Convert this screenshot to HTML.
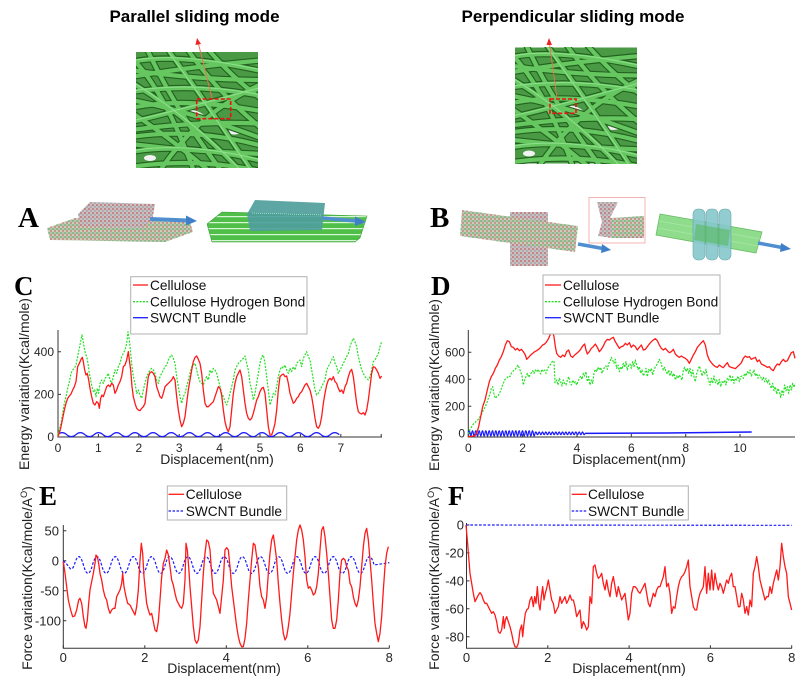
<!DOCTYPE html>
<html><head><meta charset="utf-8"><style>
html,body{margin:0;padding:0;background:#fff;}
svg{display:block;}
text{font-family:"Liberation Sans",Arial,sans-serif;fill:#262626;}
.t{font-size:12px;}
.t2{font-size:13px;}
.lg{font-size:13.7px;fill:#111;}
.al{font-size:14px;fill:#222;}
.pl{font-family:"Liberation Serif","Times New Roman",serif;font-weight:bold;fill:#000;}
.ttl{font-size:17px;font-weight:bold;fill:#000;}
.ax{stroke:#333;stroke-width:1;fill:none;}
</style></head><body>
<svg width="800" height="679" viewBox="0 0 800 679" xmlns="http://www.w3.org/2000/svg">
<defs>
<symbol id="fib" viewBox="0 0 122 116">
<rect width="122" height="116" fill="#4a9a45"/>
<ellipse cx="60" cy="62" rx="9" ry="3" fill="#f2f2f2" transform="rotate(20 60 62)"/>
<ellipse cx="45" cy="95" rx="8" ry="3" fill="#f2f2f2" transform="rotate(30 45 95)"/>
<ellipse cx="98" cy="80" rx="7" ry="2.5" fill="#f2f2f2"/>
<ellipse cx="14" cy="106" rx="6" ry="3" fill="#f2f2f2"/>
<g fill="none" stroke="#23621f" stroke-width="6.5">
<path d="M-5,10 Q40,0 130,20"/><path d="M-5,25 Q50,15 130,8"/><path d="M-5,40 Q60,30 130,45"/>
<path d="M0,55 Q50,45 130,60"/><path d="M-5,70 Q40,60 130,35"/><path d="M-5,85 Q60,75 130,95"/>
<path d="M-5,100 Q50,90 130,110"/><path d="M-5,115 Q60,105 130,120"/><path d="M10,-5 Q40,60 90,125"/>
<path d="M30,-5 Q70,50 120,125"/><path d="M-5,60 Q40,90 80,125"/><path d="M50,-5 Q80,40 130,80"/>
<path d="M-5,30 Q60,70 110,125"/><path d="M70,-5 Q100,30 130,50"/><path d="M-5,5 Q30,40 60,125"/>
<path d="M20,125 Q60,60 130,30"/><path d="M-5,78 Q70,68 130,72"/><path d="M-5,18 Q60,28 130,28"/>
<path d="M-5,48 Q50,58 130,88"/><path d="M-5,92 Q60,100 130,102"/>
</g>
<g fill="none" stroke="#66c761" stroke-width="4.2">
<path d="M-5,10 Q40,0 130,20"/><path d="M-5,25 Q50,15 130,8"/><path d="M-5,40 Q60,30 130,45"/>
<path d="M0,55 Q50,45 130,60"/><path d="M-5,70 Q40,60 130,35"/><path d="M-5,85 Q60,75 130,95"/>
<path d="M-5,100 Q50,90 130,110"/><path d="M-5,115 Q60,105 130,120"/><path d="M10,-5 Q40,60 90,125"/>
<path d="M30,-5 Q70,50 120,125"/><path d="M-5,60 Q40,90 80,125"/><path d="M50,-5 Q80,40 130,80"/>
<path d="M-5,30 Q60,70 110,125"/><path d="M70,-5 Q100,30 130,50"/><path d="M-5,5 Q30,40 60,125"/>
<path d="M20,125 Q60,60 130,30"/><path d="M-5,78 Q70,68 130,72"/><path d="M-5,18 Q60,28 130,28"/>
<path d="M-5,48 Q50,58 130,88"/><path d="M-5,92 Q60,100 130,102"/>
</g>
<g fill="none" stroke="#90e08c" stroke-width="1">
<path d="M-5,9 Q40,-1 130,19"/><path d="M-5,39 Q60,29 130,44"/><path d="M-5,69 Q40,59 130,34"/>
<path d="M-5,99 Q50,89 130,109"/><path d="M29,-5 Q69,50 119,125"/><path d="M-5,29 Q60,69 110,124"/>
</g>
</symbol>
<pattern id="mol" width="4" height="4" patternUnits="userSpaceOnUse">
<rect width="4" height="4" fill="#d4cfcc"/><circle cx="1" cy="1" r="0.8" fill="#c0392b"/><circle cx="3" cy="3" r="0.8" fill="#3c9a3c"/><circle cx="3" cy="1" r="0.6" fill="#8a8a8a"/>
</pattern>
<pattern id="mol2" width="4" height="4" patternUnits="userSpaceOnUse">
<rect width="4" height="4" fill="#c9c0c4"/><circle cx="1" cy="1" r="0.8" fill="#b84040"/><circle cx="3" cy="3" r="0.7" fill="#888"/>
</pattern>
<pattern id="mol3" width="4" height="4" patternUnits="userSpaceOnUse">
<rect width="4" height="4" fill="#c8d0bc"/><circle cx="1" cy="1" r="0.8" fill="#3ca03c"/><circle cx="3" cy="3" r="0.7" fill="#c04040"/><circle cx="3" cy="1" r="0.6" fill="#999"/>
</pattern>
<pattern id="tube" width="5" height="6" patternUnits="userSpaceOnUse">
<rect width="5" height="6" fill="#4fbf4a"/><rect y="0" width="5" height="1.2" fill="#d8f5d6"/>
</pattern>
</defs>

<!-- Titles -->
<text class="ttl" x="194.5" y="22" text-anchor="middle">Parallel sliding mode</text>
<text class="ttl" x="573" y="22" text-anchor="middle">Perpendicular sliding mode</text>

<!-- Fiber images -->
<use href="#fib" x="136" y="52" width="122" height="116"/>
<use href="#fib" x="515" y="47" width="122" height="117"/>
<rect x="196.7" y="99" width="34" height="19.7" fill="none" stroke="#ee1111" stroke-width="1.6" stroke-dasharray="4 2"/>
<line x1="212" y1="98" x2="198.5" y2="44" stroke="#f07050" stroke-width="0.9"/>
<polygon points="197,38 195.5,45 201,44" fill="#ee2222"/>
<rect x="550" y="99" width="26" height="14.3" fill="none" stroke="#ee1111" stroke-width="1.6" stroke-dasharray="4 2"/>
<line x1="557" y1="98" x2="549.5" y2="44" stroke="#f07050" stroke-width="0.9"/>
<polygon points="549,38 546.5,45 552,45" fill="#ee2222"/>

<!-- A molecular pictures -->
<text class="pl" x="18" y="227" font-size="29">A</text>
<polygon points="47,228 75,218 190,222 193,232 165,242 50,240" fill="url(#mol3)"/>
<polygon points="78,214 90,202 155,204 152,222 140,228 80,226" fill="url(#mol2)"/>
<line x1="150" y1="219" x2="188" y2="220.5" stroke="#4f8fd0" stroke-width="4"/>
<polygon points="186,215.5 197,221 186,225.5" fill="#3f7fc8"/>
<polygon points="207,224 222,212 367,216 360,238 355,242 212,242" fill="url(#tube)" stroke="#3aa035" stroke-width="0.6"/>
<polygon points="247,214 255,200 325,203 322,230 250,231" fill="#4f9e9c" opacity="0.92"/>
<line x1="252" y1="213" x2="322" y2="215" stroke="#cfe" stroke-width="0.6" stroke-dasharray="1 1"/>
<line x1="322" y1="218" x2="356" y2="221" stroke="#4f8fd0" stroke-width="3.5"/>
<polygon points="355,216.5 366,222 355,226" fill="#3f7fc8"/>

<!-- B molecular pictures -->
<text class="pl" x="430" y="227" font-size="29">B</text>
<rect x="510" y="212" width="38" height="54" fill="url(#mol2)"/>
<polygon points="462,210 578,226 575,252 460,236" fill="url(#mol3)"/>
<line x1="578" y1="244" x2="603" y2="248.5" stroke="#4f8fd0" stroke-width="3.5"/>
<polygon points="602,244 611,250 601,253" fill="#3f7fc8"/>
<rect x="589" y="197.5" width="56" height="45.5" fill="#fff" stroke="#f2a0a0" stroke-width="0.8"/>
<polygon points="597,202 618,202 610,218 620,222 644,222 644,238 612,238 598,236 602,222" fill="url(#mol2)"/>
<polygon points="610,218 644,216 644,236 612,238" fill="url(#mol3)"/>
<polygon points="660,214 762,232 756,253 656,235" fill="#7cd67a" opacity="0.85" stroke="#4fb04a" stroke-width="0.8"/>
<line x1="659" y1="221" x2="760" y2="239" stroke="#a8e8a6" stroke-width="0.8"/>
<line x1="658" y1="228" x2="758" y2="246" stroke="#a8e8a6" stroke-width="0.8"/>
<rect x="693" y="209" width="12" height="51" rx="5" fill="#86c8cc" stroke="#5a9ea2" stroke-width="0.6" opacity="0.9"/>
<rect x="706" y="209" width="12" height="51" rx="5" fill="#86c8cc" stroke="#5a9ea2" stroke-width="0.6" opacity="0.9"/>
<rect x="719" y="209" width="12" height="51" rx="5" fill="#86c8cc" stroke="#5a9ea2" stroke-width="0.6" opacity="0.9"/>
<polygon points="696,224 730,230 728,246 694,240" fill="#4fb84a" opacity="0.5"/>
<line x1="758" y1="243" x2="782" y2="247.5" stroke="#4f8fd0" stroke-width="3.5"/>
<polygon points="781,243 791,249 780,252" fill="#3f7fc8"/>

<!-- ================= Panel C ================= -->
<text class="pl" x="14" y="295" font-size="27">C</text>
<g class="ax">
<path d="M58,330 V437 H382"/>
<path d="M58,437 v-3 M98.4,437 v-3 M138.8,437 v-3 M179.2,437 v-3 M219.6,437 v-3 M260,437 v-3 M300.4,437 v-3 M340.8,437 v-3 M381.2,437 v-3"/>
<path d="M58,437 h3 M58,394.4 h3 M58,351.8 h3"/>
</g>
<text class="t" x="54" y="441" text-anchor="end">0</text>
<text class="t" x="54" y="398.4" text-anchor="end">200</text>
<text class="t" x="54" y="355.8" text-anchor="end">400</text>
<text class="t" x="58" y="452" text-anchor="middle">0</text>
<text class="t" x="98.4" y="452" text-anchor="middle">1</text>
<text class="t" x="138.8" y="452" text-anchor="middle">2</text>
<text class="t" x="179.2" y="452" text-anchor="middle">3</text>
<text class="t" x="219.6" y="452" text-anchor="middle">4</text>
<text class="t" x="260" y="452" text-anchor="middle">5</text>
<text class="t" x="300.4" y="452" text-anchor="middle">6</text>
<text class="t" x="340.8" y="452" text-anchor="middle">7</text>
<text class="al" x="217" y="464" text-anchor="middle">Displacement(nm)</text>
<text class="al" transform="translate(29,384) rotate(-90)" text-anchor="middle">Energy variation(Kcal/mole)</text>
<g transform="translate(0,270) scale(0.333333)" fill="none" stroke-linejoin="round">
<path stroke="#1a1aff" stroke-width="3.6" d="M173,494 q13.6,-12 27.25,0 t27.25,0 t27.25,0 t27.25,0 t27.25,0 t27.25,0 t27.25,0 t27.25,0 t27.25,0 t27.25,0 t27.25,0 t27.25,0 t27.25,0 t27.25,0 t27.25,0 t27.25,0 t27.25,0 t27.25,0 t27.25,0 t27.25,0 t27.25,0 t27.25,0 t27.25,0 t27.25,0 t27.25,0 t27.25,0 t27.25,0 t27.25,0 t27.25,0 t27.25,0 t27.25,0"/>
<polyline stroke="#22e022" stroke-width="3.6" stroke-dasharray="6 4" points="173,495 178,480 183,460 188,430 193,400 198,380 203,355 208,335 213,310 218,300 223,295 228,285 233,260 238,235 243,210 246,195 249,210 252,230 256,250 260,260 264,280 268,310 272,330 276,350 280,365 284,360 288,380 292,355 296,370 300,340 305,330 310,340 315,325 320,320 325,310 330,330 335,340 340,320 345,300 350,310 355,290 360,280 365,260 370,250 375,240 380,220 384,185 388,210 392,250 396,290 400,320 405,340 410,370 415,360 420,375 425,385 430,360 435,340 440,320 445,310 450,300 455,295 460,300 465,310 470,330 475,340 480,320 485,310 490,300 495,290 500,285 505,270 510,260 515,255 520,265 525,280 530,320 535,350 540,380 545,400 550,380 555,370 560,350 565,330 570,310 575,290 580,285 585,280 590,300 595,320 600,335 605,340 610,345 615,330 620,320 625,330 630,300 635,310 640,295 645,300 650,310 655,330 660,350 665,370 670,380 675,395 680,405 685,390 690,370 695,350 700,330 705,300 710,290 715,280 720,275 725,270 730,265 735,258 740,280 745,300 750,340 755,360 760,390 765,370 770,340 775,310 780,280 785,260 790,255 795,280 800,320 805,360 810,405 815,390 820,370 825,375 830,350 835,320 840,300 845,290 850,295 855,285 860,300 865,310 870,295 875,305 880,290 885,300 890,280 895,275 900,270 905,290 910,265 915,255 920,245 925,260 930,270 935,300 940,330 945,360 950,375 955,370 960,360 965,350 970,340 975,330 980,300 985,290 990,280 995,270 1000,260 1005,280 1010,290 1015,310 1020,300 1025,290 1030,280 1035,270 1040,260 1045,250 1050,230 1055,215 1060,205 1065,215 1070,230 1075,260 1080,280 1085,300 1090,310 1095,320 1100,325 1105,330 1110,320 1115,300 1120,275 1125,270 1130,260 1135,250 1140,230 1145,215"/>
<polyline stroke="#ff1a1a" stroke-width="3.9" points="173,500 178,490 183,470 188,445 193,420 198,400 203,385 208,378 213,372 218,360 223,350 228,335 233,290 238,280 243,268 247,262 250,275 254,300 258,315 262,310 266,330 270,355 275,380 280,400 285,405 290,395 295,400 298,415 302,385 306,375 310,380 315,365 320,350 325,345 330,350 335,340 340,345 345,370 350,360 355,345 360,335 365,320 370,290 375,285 380,270 385,245 388,270 392,300 396,350 400,380 405,400 410,415 415,420 420,422 425,415 430,410 435,400 440,360 445,320 450,308 455,305 460,310 465,320 470,350 475,365 480,380 485,385 490,370 495,350 500,345 505,340 510,335 515,330 520,320 525,330 530,380 535,420 540,450 545,470 550,460 555,440 560,400 565,360 570,330 575,300 580,275 585,262 590,258 595,268 600,280 605,310 610,360 615,400 620,410 625,410 630,405 635,400 640,395 645,380 650,365 655,350 660,355 665,375 670,420 675,455 680,475 685,485 690,470 695,420 700,370 705,340 710,320 715,310 720,300 725,320 730,360 735,400 740,430 745,445 750,450 755,445 760,430 765,410 770,390 775,380 780,365 785,355 790,352 795,370 800,420 805,470 810,495 815,495 820,480 825,460 830,420 835,360 840,320 845,315 850,312 855,320 860,318 865,340 870,370 875,385 880,400 885,395 890,385 895,380 900,370 905,365 910,355 915,345 920,340 925,350 930,360 935,380 940,410 945,445 950,470 955,475 960,465 965,440 970,400 975,370 980,345 985,330 990,325 995,330 1000,320 1005,335 1010,340 1015,355 1020,365 1025,360 1030,370 1035,350 1040,340 1045,320 1050,305 1055,298 1060,320 1065,360 1070,400 1075,425 1080,430 1085,432 1090,428 1095,435 1100,420 1105,390 1110,350 1115,310 1120,290 1125,292 1130,300 1135,310 1140,325 1145,318"/>
</g>
<rect x="130.7" y="276.7" width="176.3" height="57.3" fill="#fff" stroke="#b0b0b0" stroke-width="1"/>
<line x1="133" y1="285" x2="148" y2="285" stroke="#ff1a1a" stroke-width="1.3"/>
<line x1="133" y1="301.7" x2="148" y2="301.7" stroke="#22e022" stroke-width="1.3" stroke-dasharray="2 1.3"/>
<line x1="133" y1="317.7" x2="148" y2="317.7" stroke="#1a1aff" stroke-width="1.3"/>
<text class="lg" x="150" y="290">Cellulose</text>
<text class="lg" x="150" y="306.5">Cellulose Hydrogen Bond</text>
<text class="lg" x="150" y="322.5">SWCNT Bundle</text>

<!-- ================= Panel D ================= -->
<text class="pl" x="431" y="295" font-size="27">D</text>
<g class="ax">
<path d="M468.3,330 V437 H795"/>
<path d="M468.3,437 v-3 M522.6,437 v-3 M577,437 v-3 M631.3,437 v-3 M685.7,437 v-3 M740,437 v-3"/>
<path d="M468.3,433.3 h3 M468.3,406.3 h3 M468.3,379.3 h3 M468.3,352.3 h3"/>
</g>
<text class="t" x="465" y="437.5" text-anchor="end">0</text>
<text class="t" x="465" y="410.5" text-anchor="end">200</text>
<text class="t" x="465" y="383.5" text-anchor="end">400</text>
<text class="t" x="465" y="356.5" text-anchor="end">600</text>
<text class="t" x="468.3" y="452" text-anchor="middle">0</text>
<text class="t" x="522.6" y="452" text-anchor="middle">2</text>
<text class="t" x="577" y="452" text-anchor="middle">4</text>
<text class="t" x="631.3" y="452" text-anchor="middle">6</text>
<text class="t" x="685.7" y="452" text-anchor="middle">8</text>
<text class="t" x="740" y="452" text-anchor="middle">10</text>
<text class="al" x="629" y="464" text-anchor="middle">Displacement(nm)</text>
<text class="al" transform="translate(439,385) rotate(-90)" text-anchor="middle">Energy variation(Kcal/mole)</text>
<g transform="translate(400,270) scale(0.333333)" fill="none" stroke-linejoin="round">
<path stroke="#1a1aff" stroke-width="3.6" d="M205,490 q2.5,-16 5,0 t5,0 t5,0 t5,0 t5,0 t5,0 t5,0 t5,0 t5,0 t5,0 t5,0 t5,0 t5,0 t5,0 t5,0 t5,0 t5,0 t5,0 t5,0 t5,0 t5,0 t5,0 t5,0 t5,0 t5,0 t5,0 t5,0 t5,0 t5,0 t5,0 t5,0 t5,0 t5,0 t5,0 t5,0 t5,0 t5,0 t5,0 t5,0 t5,0 q2.5,-8 5,0 t5,0 t5,0 t5,0 t5,0 t5,0 t5,0 t5,0 t5,0 t5,0 t5,0 t5,0 t5,0 t5,0 t5,0 t5,0 t5,0 t5,0 t5,0 t5,0 t5,0 t5,0 t5,0 t5,0 t5,0 t5,0 t5,0 t5,0 t5,0 t5,0"/>
<path stroke="#1a1aff" stroke-width="4.5" d="M555,490 L800,489 L1055,486"/>
<polyline stroke="#22e022" stroke-width="3.6" stroke-dasharray="6 4" points="205,492 210,478 215,470 220,462 225,458 230,452 235,448 240,440 245,432 250,420 255,412 260,400 265,385 270,372 274,355 278,350 282,372 286,385 290,380 294,378 298,370 302,362 306,350 310,340 314,330 318,325 322,322 326,318 330,320 334,310 338,305 342,300 346,298 350,290 354,285 358,295 362,305 366,318 370,345 374,330 378,320 382,310 386,322 390,315 394,308 398,302 402,310 406,300 410,306 414,298 418,305 422,312 426,298 430,305 434,300 438,310 442,298 446,290 450,285 454,280 458,272 462,275 465,338 470,330 474,345 478,325 482,335 486,348 490,330 494,340 498,345 502,330 506,320 510,338 514,345 518,330 522,340 526,335 530,345 534,335 538,325 542,318 546,328 550,310 554,318 558,305 562,335 566,320 570,345 574,330 578,340 582,310 586,298 590,305 594,292 598,300 602,292 606,310 610,300 614,290 618,288 622,298 626,280 630,275 634,262 638,270 642,280 646,268 650,295 654,285 658,305 662,290 666,298 670,280 674,292 678,275 682,300 686,285 690,282 694,295 698,275 702,290 706,270 710,285 714,298 718,290 722,310 726,300 730,318 734,310 738,295 742,320 746,298 750,305 754,295 758,315 762,300 766,290 770,285 774,278 778,268 782,275 786,290 790,300 794,292 798,305 802,312 806,300 810,318 814,305 818,320 822,310 826,330 830,318 834,325 838,315 842,322 846,330 850,300 854,292 858,305 862,295 866,310 870,295 874,318 878,300 882,320 886,335 890,310 894,300 898,288 902,300 906,318 910,305 914,312 918,298 922,320 926,330 930,345 934,325 938,340 942,318 946,338 950,330 954,345 958,328 962,350 966,335 970,340 974,330 978,345 982,325 986,330 990,315 994,335 998,320 1002,340 1006,325 1010,330 1014,318 1018,335 1022,320 1026,318 1030,325 1034,310 1038,318 1042,305 1046,312 1050,300 1054,318 1058,310 1062,300 1066,318 1070,310 1074,325 1078,315 1082,320 1086,330 1090,322 1094,335 1098,325 1102,340 1106,330 1110,345 1114,355 1118,340 1122,362 1126,350 1130,372 1134,355 1138,365 1142,382 1146,360 1150,375 1154,345 1158,362 1162,350 1166,370 1170,345 1174,360 1178,340 1182,352 1185,340"/>
<polyline stroke="#ff1a1a" stroke-width="3.9" points="205,500 215,499 225,497 230,490 236,470 242,440 248,410 255,390 262,360 268,335 274,320 280,310 286,295 292,285 298,270 304,260 310,245 316,225 322,212 328,215 334,230 340,232 346,240 352,235 358,242 364,238 370,245 376,255 380,268 386,262 392,255 398,250 404,245 410,242 416,238 422,232 428,225 434,222 440,215 446,205 452,190 458,185 462,200 466,230 470,250 476,258 482,262 488,255 494,260 500,245 506,240 512,258 518,262 524,255 530,250 536,245 542,238 548,228 554,222 558,240 562,252 568,245 574,235 580,230 586,222 592,232 598,245 604,238 610,228 616,215 622,208 628,210 634,205 640,202 646,215 652,225 658,235 664,230 670,228 676,220 682,225 688,218 694,232 700,225 706,230 712,240 718,232 724,225 730,240 736,238 742,230 748,222 754,215 760,210 766,206 772,212 778,225 784,235 790,240 796,235 802,242 808,248 814,245 820,238 826,252 832,258 838,262 844,258 850,262 856,265 862,270 868,280 874,268 880,255 886,245 892,232 898,225 904,218 910,212 916,225 922,255 928,270 934,278 940,285 946,290 952,292 958,285 964,290 970,293 976,285 982,278 988,290 994,292 1000,294 1006,296 1012,290 1018,285 1024,278 1030,265 1036,258 1042,262 1048,260 1054,268 1060,265 1066,262 1072,275 1078,270 1084,282 1090,285 1096,288 1102,292 1108,290 1114,298 1120,302 1126,290 1132,282 1138,285 1144,275 1150,268 1156,275 1162,272 1168,260 1174,248 1180,245 1185,265"/>
</g>
<rect x="543" y="275" width="177" height="59" fill="#fff" stroke="#b0b0b0" stroke-width="1"/>
<line x1="545" y1="285" x2="561" y2="285" stroke="#ff1a1a" stroke-width="1.3"/>
<line x1="545" y1="301.7" x2="561" y2="301.7" stroke="#22e022" stroke-width="1.3" stroke-dasharray="2 1.3"/>
<line x1="545" y1="317.7" x2="561" y2="317.7" stroke="#1a1aff" stroke-width="1.3"/>
<text class="lg" x="563" y="290">Cellulose</text>
<text class="lg" x="563" y="306.5">Cellulose Hydrogen Bond</text>
<text class="lg" x="563" y="322.5">SWCNT Bundle</text>

<!-- ================= Panel E ================= -->
<text class="pl" x="39" y="505" font-size="27">E</text>
<g class="ax">
<path d="M63.3,525 V648.3 H389.3"/>
<path d="M63.3,648.3 v-3 M144.8,648.3 v-3 M226.3,648.3 v-3 M307.8,648.3 v-3 M389.3,648.3 v-3"/>
<path d="M63.3,530.7 h3 M63.3,560.7 h3 M63.3,590.7 h3 M63.3,620.7 h3"/>
</g>
<text class="t2" x="59" y="535.4" text-anchor="end">50</text>
<text class="t2" x="59" y="565.4" text-anchor="end">0</text>
<text class="t2" x="59" y="595.4" text-anchor="end">-50</text>
<text class="t2" x="61" y="625.4" text-anchor="end">-100</text>
<text class="t2" x="63.3" y="662" text-anchor="middle">0</text>
<text class="t2" x="144.8" y="662" text-anchor="middle">2</text>
<text class="t2" x="226.3" y="662" text-anchor="middle">4</text>
<text class="t2" x="307.8" y="662" text-anchor="middle">6</text>
<text class="t2" x="389.3" y="662" text-anchor="middle">8</text>
<text class="al" x="224" y="673" text-anchor="middle">Displacement(nm)</text>
<text class="al" transform="translate(32,578) rotate(-90)" text-anchor="middle">Force variation(Kcal/mole/A<tspan dy="-5" font-size="9">O</tspan><tspan dy="5">)</tspan></text>
<g transform="translate(0,440) scale(0.333333)" fill="none" stroke-linejoin="round">
<path stroke="#1a1aff" stroke-width="3.6" stroke-dasharray="8 5" d="M190,362 L200,372 L210,385 Q216,392 223,375 q13.6,-50 27.25,0 t27.25,0 t27.25,0 t27.25,0 t27.25,0 t27.25,0 t27.25,0 t27.25,0 t27.25,0 t27.25,0 t27.25,0 t27.25,0 t27.25,0 t27.25,0 t27.25,0 t27.25,0 t27.25,0 t27.25,0 t27.25,0 t27.25,0 t27.25,0 t27.25,0 t27.25,0 t27.25,0 t27.25,0 t27.25,0 t27.25,0 t27.25,0 t27.25,0 t27.25,0 t27.25,0 t27.25,0 t27.25,0 L1168,368"/>
<polyline stroke="#ff1a1a" stroke-width="3.9" points="190,365 195,400 200,440 205,480 212,510 218,530 224,528 230,510 236,480 240,475 245,490 250,530 255,560 258,565 262,540 266,490 270,450 276,420 280,400 285,370 288,345 292,350 296,370 300,400 305,420 310,450 315,470 320,480 325,505 330,520 335,510 340,505 345,505 350,470 355,460 360,450 365,430 368,400 372,440 378,470 383,490 390,495 395,505 400,515 405,525 410,500 415,450 420,360 424,310 428,340 432,410 436,450 440,490 445,510 450,525 455,520 460,545 465,570 470,575 475,545 480,480 485,410 490,370 495,355 500,330 505,345 510,380 515,420 520,435 525,460 530,480 535,490 540,500 545,505 550,490 555,420 558,310 562,330 566,380 570,440 575,500 580,560 585,600 590,610 595,600 600,560 605,480 610,400 615,340 620,300 625,305 630,330 635,400 640,460 645,470 650,480 655,500 660,520 665,470 670,420 675,330 680,323 685,330 690,380 695,440 700,480 705,520 710,560 715,590 720,610 725,620 730,620 735,595 740,550 745,480 750,420 755,360 760,310 765,315 770,350 775,380 780,440 785,470 790,480 795,505 800,470 805,400 810,340 815,300 820,285 825,320 830,360 835,430 840,490 845,540 850,580 855,600 860,590 865,560 870,520 875,460 880,400 885,350 890,300 895,270 900,255 905,270 910,300 915,350 920,420 925,445 930,440 935,450 940,465 945,460 950,440 955,400 960,330 965,270 970,260 975,290 980,340 985,400 990,470 995,540 1000,565 1005,565 1010,540 1015,480 1020,400 1025,360 1030,355 1035,360 1040,380 1045,390 1050,430 1055,440 1060,470 1065,490 1070,500 1075,480 1080,440 1085,380 1090,320 1095,280 1100,265 1105,300 1110,360 1115,420 1120,490 1125,550 1130,580 1135,605 1140,580 1145,530 1150,450 1155,380 1160,340 1165,320"/>
</g>
<rect x="167.3" y="486" width="119.4" height="34" fill="#fff" stroke="#b0b0b0" stroke-width="1"/>
<line x1="168.5" y1="494.3" x2="184" y2="494.3" stroke="#ff1a1a" stroke-width="1.3"/>
<line x1="168.5" y1="511" x2="184" y2="511" stroke="#1a1aff" stroke-width="1.3" stroke-dasharray="2.5 1.5"/>
<text class="lg" x="185.7" y="499">Cellulose</text>
<text class="lg" x="185.7" y="516">SWCNT Bundle</text>

<!-- ================= Panel F ================= -->
<text class="pl" x="448" y="505" font-size="27">F</text>
<g class="ax">
<path d="M466.5,523 V648.3 H792"/>
<path d="M466.5,648.3 v-3 M547.8,648.3 v-3 M629.1,648.3 v-3 M710.4,648.3 v-3 M791.7,648.3 v-3"/>
<path d="M466.5,525 h3 M466.5,552.9 h3 M466.5,580.9 h3 M466.5,608.8 h3 M466.5,636.8 h3"/>
</g>
<text class="t2" x="464" y="529.7" text-anchor="end">0</text>
<text class="t2" x="464" y="557.6" text-anchor="end">-20</text>
<text class="t2" x="464" y="585.6" text-anchor="end">-40</text>
<text class="t2" x="464" y="613.5" text-anchor="end">-60</text>
<text class="t2" x="464" y="641.5" text-anchor="end">-80</text>
<text class="t2" x="466.5" y="662" text-anchor="middle">0</text>
<text class="t2" x="547.8" y="662" text-anchor="middle">2</text>
<text class="t2" x="629.1" y="662" text-anchor="middle">4</text>
<text class="t2" x="710.4" y="662" text-anchor="middle">6</text>
<text class="t2" x="791.7" y="662" text-anchor="middle">8</text>
<text class="al" x="629" y="673" text-anchor="middle">Displacement(nm)</text>
<text class="al" transform="translate(439,578) rotate(-90)" text-anchor="middle">Force variation(Kcal/mole/A<tspan dy="-5" font-size="9">O</tspan><tspan dy="5">)</tspan></text>
<g transform="translate(400,440) scale(0.333333)" fill="none" stroke-linejoin="round">
<path stroke="#1a1aff" stroke-width="3.6" stroke-dasharray="8 5" d="M198,255 L1175,256"/>
<polyline stroke="#ff1a1a" stroke-width="3.9" points="198,255 202,300 206,350 210,400 215,430 220,460 225,485 230,475 235,465 240,458 245,465 250,480 255,490 260,490 265,500 270,510 275,520 280,515 285,525 290,545 295,575 300,580 305,570 310,530 313,565 316,540 320,530 325,545 330,560 335,580 340,605 345,620 350,622 355,610 360,570 365,555 368,590 372,550 376,520 380,510 385,505 390,480 395,470 400,500 404,470 408,490 412,440 416,490 420,510 424,470 428,440 432,480 436,460 440,445 445,420 450,450 455,480 460,490 465,520 470,510 475,500 480,470 485,490 490,480 495,470 500,490 505,480 510,465 515,480 520,480 525,500 530,530 535,520 540,510 545,565 550,545 555,555 560,570 565,560 570,470 575,490 580,380 585,375 590,400 595,415 600,410 605,400 610,430 615,450 620,420 625,450 630,470 635,430 640,410 645,440 650,470 655,440 660,460 665,480 670,470 675,460 680,500 685,540 690,520 695,460 700,440 705,440 710,445 715,455 720,460 725,450 730,440 735,430 740,460 745,490 750,500 755,480 760,460 765,470 770,450 775,440 780,440 785,425 790,410 795,380 800,440 805,430 810,460 815,520 820,500 825,505 830,470 835,440 840,420 845,410 850,405 855,395 860,380 865,360 870,440 875,470 880,500 885,510 890,510 895,480 900,460 905,450 910,440 915,380 920,460 925,400 930,450 935,390 940,450 945,400 950,430 955,450 960,430 965,440 970,460 975,440 980,420 985,430 990,410 995,400 1000,440 1005,440 1010,470 1015,500 1020,500 1025,460 1030,480 1035,520 1040,500 1045,525 1050,480 1055,500 1060,400 1065,380 1070,350 1075,380 1080,420 1085,440 1090,460 1095,480 1100,470 1105,470 1110,440 1115,460 1120,430 1125,410 1130,390 1135,420 1140,380 1145,310 1150,350 1155,380 1160,400 1165,470 1170,490 1175,510"/>
</g>
<rect x="570" y="486" width="118.3" height="34" fill="#fff" stroke="#b0b0b0" stroke-width="1"/>
<line x1="571.7" y1="494.3" x2="586.7" y2="494.3" stroke="#ff1a1a" stroke-width="1.3"/>
<line x1="571.7" y1="511" x2="586.7" y2="511" stroke="#1a1aff" stroke-width="1.3" stroke-dasharray="2.5 1.5"/>
<text class="lg" x="588" y="499">Cellulose</text>
<text class="lg" x="588" y="516">SWCNT Bundle</text>
</svg>
</body></html>
